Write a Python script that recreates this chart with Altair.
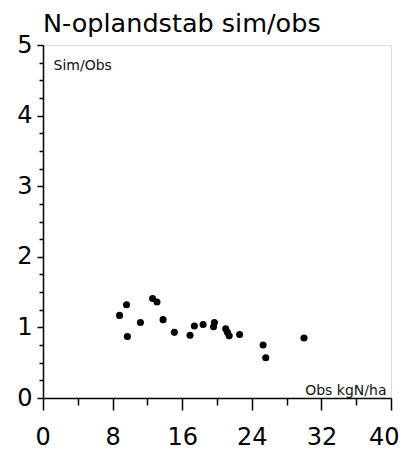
import altair as alt
import pandas as pd

obs = [8.8, 9.6, 9.7, 11.2, 12.6, 13.1, 13.8, 15.1, 16.9, 17.4, 18.4, 19.6, 19.7,
       21.0, 21.2, 21.4, 22.6, 25.3, 25.6, 30.0]
ratio = [1.17, 1.32, 0.87, 1.07, 1.41, 1.36, 1.11, 0.93, 0.89, 1.02, 1.04, 1.01, 1.07,
         0.98, 0.93, 0.88, 0.90, 0.75, 0.57, 0.85]

x_major = [0, 8, 16, 24, 32, 40]
x_minor = [4, 12, 20, 28, 36]
y_major = [0, 1, 2, 3, 4, 5]
y_minor = [0.25, 0.5, 0.75, 1.25, 1.5, 1.75, 2.25, 2.5, 2.75,
           3.25, 3.5, 3.75, 4.25, 4.5, 4.75]

df = pd.DataFrame({"obs": obs, "ratio": ratio})
FONT = "DejaVu Sans"

xscale = alt.Scale(domain=[0, 40], nice=False)
yscale = alt.Scale(domain=[0, 5], nice=False)

major = alt.Chart(df).mark_circle(size=50, color="black", opacity=1).encode(
    x=alt.X("obs:Q", scale=xscale,
            axis=alt.Axis(values=x_major, tickSize=12, tickWidth=1.5, labelPadding=15,
                          labelFontSize=24, labelFont=FONT, labelColor="black",
                          domainColor="black", domainWidth=1.5, tickColor="black",
                          grid=False, title="Obs kgN/ha", titleFont=FONT,
                          titleFontSize=14, titleFontWeight="normal", titleColor="#111",
                          titleX=343, titleY=-4, titleAlign="right",
                          titleBaseline="alphabetic", labelFlush=True,
                          labelFlushOffset=8)),
    y=alt.Y("ratio:Q", scale=yscale,
            axis=alt.Axis(values=y_major, tickSize=6, tickWidth=1.5, labelPadding=5,
                          labelFontSize=24, labelFont=FONT, labelColor="black",
                          domainColor="black", domainWidth=1.5, tickColor="black",
                          grid=False, title="Sim/Obs", titleFont=FONT,
                          titleFontSize=14, titleFontWeight="normal", titleColor="#111",
                          titleAngle=0, titleX=10, titleY=24, titleAlign="left",
                          titleBaseline="alphabetic", labelFlush=False)),
)

minor = alt.Chart(df).mark_circle(size=45, color="black", opacity=0).encode(
    x=alt.X("obs:Q", scale=xscale,
            axis=alt.Axis(values=x_minor, orient="bottom", tickSize=7, tickWidth=1.5,
                          labels=False, domain=False, grid=False, title=None,
                          tickColor="black")),
    y=alt.Y("ratio:Q", scale=yscale,
            axis=alt.Axis(values=y_minor, orient="left", tickSize=4, tickWidth=1.5,
                          labels=False, domain=False, grid=False, title=None,
                          tickColor="black")),
)

chart = alt.layer(major, minor).resolve_axis(x="independent", y="independent").properties(
    width=348, height=353,
    autosize=alt.AutoSizeParams(type="none"),
    padding={"left": 35, "top": 37, "right": 8, "bottom": 55},
    title=alt.TitleParams("N-oplandstab sim/obs", anchor="start", frame="group",
                          fontSize=25.5, font=FONT, fontWeight="normal", color="black",
                          offset=6, dy=10),
).configure_view(stroke="black", strokeWidth=1.5).configure(background="white")

chart.save("out.html", embed_options={"renderer": "svg", "actions": False})
